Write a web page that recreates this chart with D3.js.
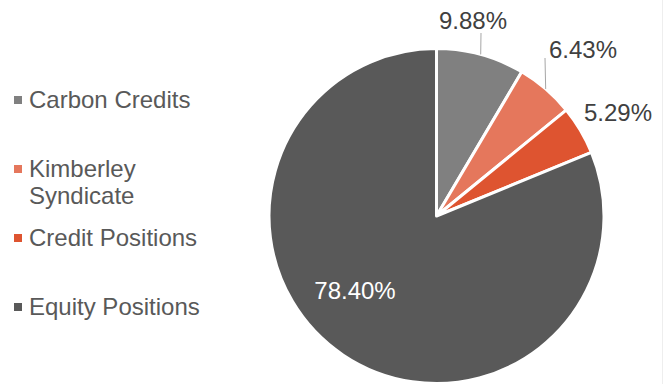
<!DOCTYPE html>
<html>
<head>
<meta charset="utf-8">
<script src="https://cdn.jsdelivr.net/npm/d3@7"></script>
<style>
  body{margin:0;background:#fff;}
  svg{display:block;font-family:"Liberation Sans",Arial,sans-serif;}
</style>
</head>
<body>
<script>
const categories=['Carbon Credits','Kimberley Syndicate','Credit Positions','Equity Positions'];
// slice sizes as drawn in the picture (the printed labels differ a bit)
const shares=[8.5,5.6,4.7,81.2];
const labels=['9.88%','6.43%','5.29%','78.40%'];
const colors=['#808080','#e5775c','#de5430','#595959'];

let W=664,H=384;
let cx=436.5,cy=216,R=167.5;

// where the data labels sit (Excel "best fit" placement)
let labelLayout=[
    {x:473,y:29,fill:'#404040',leader:{x:481,y:33}},
    {x:583,y:58,fill:'#404040',leader:{x:545,y:58}},
    {x:618,y:121,fill:'#404040'},
    {x:355,y:299,fill:'#ffffff'}
];
// legend rows: baselines of each text line
let legendLines=[[108],[177,204],[246],[315]];

let svg=d3.select('body').append('svg')
    .attr('width',W).attr('height',H);

svg.append('line')
    .attr('x1',662.5).attr('x2',662.5).attr('y1',0).attr('y2',H)
    .attr('stroke','#eeeeee').attr('stroke-width',1);

let pie=d3.pie().sort(null).value(d=>d);
let arcs=pie(shares);
let arc=d3.arc().innerRadius(0).outerRadius(R);

let g=svg.append('g').attr('transform','translate('+cx+','+cy+')');
g.selectAll('path')
    .data(arcs)
    .enter().append('path')
    .attr('d',arc)
    .attr('fill',(d,i)=>colors[i])
    .attr('stroke','#fff')
    .attr('stroke-width',3)
    .attr('stroke-linejoin','round');

// leader lines go to the middle of the slice edge
labelLayout.forEach((l,i)=>{
    if(!l.leader) return;
    let a=(arcs[i].startAngle+arcs[i].endAngle)/2;
    svg.append('line')
        .attr('x1',l.leader.x).attr('y1',l.leader.y)
        .attr('x2',cx+R*Math.sin(a)).attr('y2',cy-R*Math.cos(a))
        .attr('stroke','#a6a6a6').attr('stroke-width',1);
});

svg.selectAll('text.lbl')
    .data(labels)
    .enter().append('text')
    .attr('class','lbl')
    .attr('x',(d,i)=>labelLayout[i].x)
    .attr('y',(d,i)=>labelLayout[i].y)
    .attr('text-anchor','middle')
    .attr('font-size',24)
    .attr('fill',(d,i)=>labelLayout[i].fill)
    .text(d=>d);

// legend
let words=[['Carbon Credits'],['Kimberley','Syndicate'],['Credit Positions'],['Equity Positions']];
let leg=svg.append('g');
categories.forEach((c,i)=>{
    let base=legendLines[i][0];
    leg.append('rect')
        .attr('x',14).attr('y',base-12).attr('width',8).attr('height',8)
        .attr('fill',colors[i]);
    let t=leg.append('text')
        .attr('font-size',24).attr('fill','#595959');
    words[i].forEach((w,j)=>{
        t.append('tspan').attr('x',29).attr('y',legendLines[i][j]).text(w);
    });
});
</script>
</body>
</html>
